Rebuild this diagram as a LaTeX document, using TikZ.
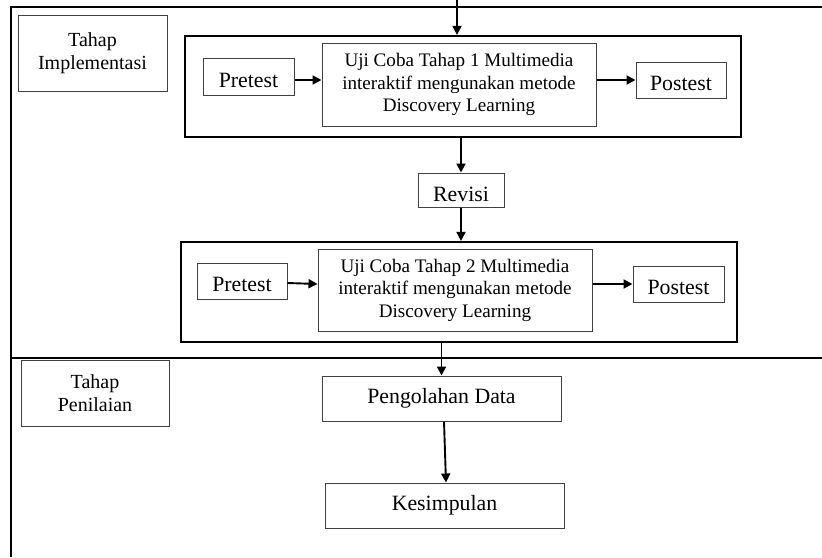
\documentclass[tikz,border=0pt]{standalone}
\usepackage{fontspec}
\setmainfont{Liberation Serif}
\usetikzlibrary{arrows.meta}
\begin{document}
\begin{tikzpicture}[x=1pt,y=-1pt,
  box/.style={draw=black!75, line width=1pt, inner sep=0pt, align=center, font=\fontsize{21.8}{24}\selectfont},
  lowtext/.style={text height=21.5pt, text depth=0pt},
  stagebox/.style={box, font=\fontsize{20}{23}\selectfont},
  ujibox/.style={box, font=\fontsize{19.1}{22.5}\selectfont},
  outerbox/.style={draw=black, line width=2.2pt, inner sep=0pt},
  frame/.style={line width=1.3pt, black},
  arr/.style={line width=1.9pt, -{Triangle[length=9pt,width=9pt]}}
]
\useasboundingbox (0,0) rectangle (822,557);
% frame lines
\coordinate (tl) at (11,7);
\coordinate (tr) at (822,7);
\coordinate (bl) at (11,557);
\coordinate (ml) at (11,358);
\coordinate (mr) at (822,358);
\draw[frame] (tr) -- (tl) -- (bl);
\draw[frame] (ml) -- (mr);
% stage labels
\node[stagebox, minimum width=149, minimum height=76] (tahapI) at (92.5,53) {Tahap\\Implementasi};
\node[stagebox, minimum width=148, minimum height=66] (tahapP) at (95,393) {Tahap\\Penilaian};
% trial 1
\node[outerbox, minimum width=556, minimum height=101] (outer1) at (463,86.5) {};
\node[box, lowtext, minimum width=91, minimum height=37] (pre1) at (248.5,76.5) {Pretest};
\node[ujibox, minimum width=274, minimum height=83] (uji1) at (459,84.5) {Uji Coba Tahap 1 Multimedia\\interaktif mengunakan metode\\Discovery Learning};
\node[box, lowtext, minimum width=90, minimum height=36] (post1) at (681,80) {Postest};
% revisi
\node[box, lowtext, text height=23pt, minimum width=86, minimum height=34] (revisi) at (461,190) {Revisi};
% trial 2
\node[outerbox, minimum width=556, minimum height=100] (outer2) at (459,292) {};
\node[box, lowtext, minimum width=90, minimum height=36] (pre2) at (242,281) {Pretest};
\node[ujibox, minimum width=274, minimum height=82] (uji2) at (455,290) {Uji Coba Tahap 2 Multimedia\\interaktif mengunakan metode\\Discovery Learning};
\node[box, lowtext, minimum width=91, minimum height=36] (post2) at (678.5,284) {Postest};
% assessment
\node[box, minimum width=239, minimum height=45] (olah) at (441.5,398.5) {Pengolahan Data};
\node[box, minimum width=239, minimum height=45] (kesim) at (444.5,505.5) {Kesimpulan};
% connectors
\coordinate (topin) at (457,0);
\draw[arr] (topin) -- (topin |- outer1.north);
\draw[arr] ([yshift=-3.5pt]pre1.east) -- (uji1.west |- post1.west);
\draw[arr] (uji1.east |- post1.west) -- (post1.west);
\draw[arr] (revisi |- outer1.south) -- (revisi.north);
\draw[arr] (revisi.south) -- (revisi |- outer2.north);
\draw[arr] ([yshift=-2pt]pre2.east) -- (uji2.west |- post2.west);
\draw[arr] (uji2.east |- post2.west) -- (post2.west);
\draw[arr] (olah |- outer2.south) -- (olah.north);
\draw[arr] ([xshift=2.5pt]olah.south) -- ([xshift=1.5pt]kesim.north);
\end{tikzpicture}
\end{document}
